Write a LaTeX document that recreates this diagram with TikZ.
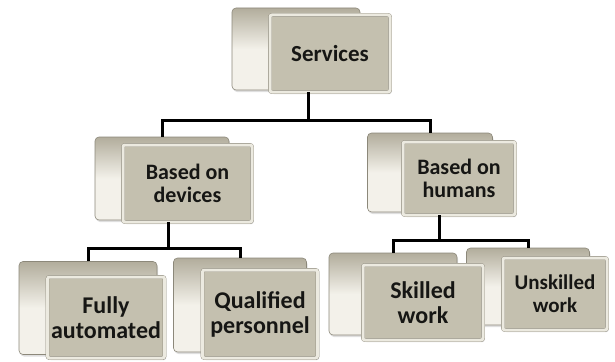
\documentclass[tikz,border=0pt]{standalone}
\usepackage{fontspec}
\setmainfont{Carlito}
\usetikzlibrary{shadows}
\definecolor{faceColor}{RGB}{196,192,175}
\definecolor{rimColor}{RGB}{236,234,224}
\definecolor{edgeColor}{RGB}{140,136,122}
\definecolor{panelTop}{RGB}{178,173,156}
\definecolor{panelLow}{RGB}{243,241,234}
\definecolor{textColor}{RGB}{22,22,20}

\begin{document}
\begin{tikzpicture}[x=1pt,y=-1pt,
panel/.style={rounded corners=4pt,draw=edgeColor,line width=.6pt,
  top color=panelTop,bottom color=panelLow,middle color=panelLow,
  inner sep=0pt,drop shadow={opacity=.25,shadow xshift=1pt,shadow yshift=-2pt}},
face/.style={rounded corners=2pt,draw=edgeColor,double=rimColor,double distance=3pt,
  fill=faceColor,inner sep=0pt,align=center,text=textColor,
  font=\fontsize{22}{23}\selectfont\bfseries,
  drop shadow={opacity=.3,shadow xshift=1.5pt,shadow yshift=-2pt}},
big/.style={font=\fontsize{24}{25}\selectfont\bfseries},
link/.style={line width=3pt,black}]
\useasboundingbox (0,0) rectangle (615,361);
% back panels
\node[panel,minimum width=128pt,minimum height=82pt] (servicesBack) at (296,49) {};
\node[panel,minimum width=134pt,minimum height=83pt] (devicesBack) at (162,178.5) {};
\node[panel,minimum width=125pt,minimum height=79pt] (humansBack) at (430,172.5) {};
\node[panel,minimum width=138pt,minimum height=93pt] (fullyBack) at (88,308) {};
\node[panel,minimum width=133pt,minimum height=94pt] (qualifiedBack) at (240,305) {};
\node[panel,minimum width=128pt,minimum height=82pt] (skilledBack) at (393,294) {};
\node[panel,minimum width=123pt,minimum height=77pt] (unskilledBack) at (528,286.5) {};
% front faces
\node[face,font=\fontsize{23}{24}\selectfont\bfseries,minimum width=120pt,minimum height=77pt] (services) at (330,53.5) {Services};
\node[face,minimum width=129pt,minimum height=77pt] (devices) at (187.5,183.5) {Based on\\devices};
\node[face,minimum width=112pt,minimum height=73pt] (humans) at (459,178.5) {Based on\\humans};
\node[face,big,minimum width=117pt,minimum height=81pt] (fully) at (106,317.5) {Fully\\automated};
\node[face,big,minimum width=115pt,minimum height=88pt] (qualified) at (260,314) {Qualified\\personnel};
\node[face,big,minimum width=120pt,minimum height=75pt] (skilled) at (423,302.5) {Skilled\\work};
\node[face,font=\fontsize{21}{23}\selectfont\bfseries,minimum width=104pt,minimum height=72pt] (unskilled) at (555,294) {Unskilled\\work};
% connectors
\coordinate (topBus) at (308,120);
\coordinate (devBus) at (168,248);
\coordinate (humBus) at (439,240);
\draw[link] (topBus) -- (topBus |- services.south);
\draw[link] (devicesBack.north) |- (topBus) -| (humansBack.north);
\draw[link] (devBus) -- (devBus |- devices.south);
\draw[link] (fullyBack.north) |- (devBus) -| (qualifiedBack.north);
\draw[link] (humBus) -- (humBus |- humans.south);
\draw[link] (skilledBack.north) |- (humBus) -| (unskilledBack.north);
\end{tikzpicture}
\end{document}
